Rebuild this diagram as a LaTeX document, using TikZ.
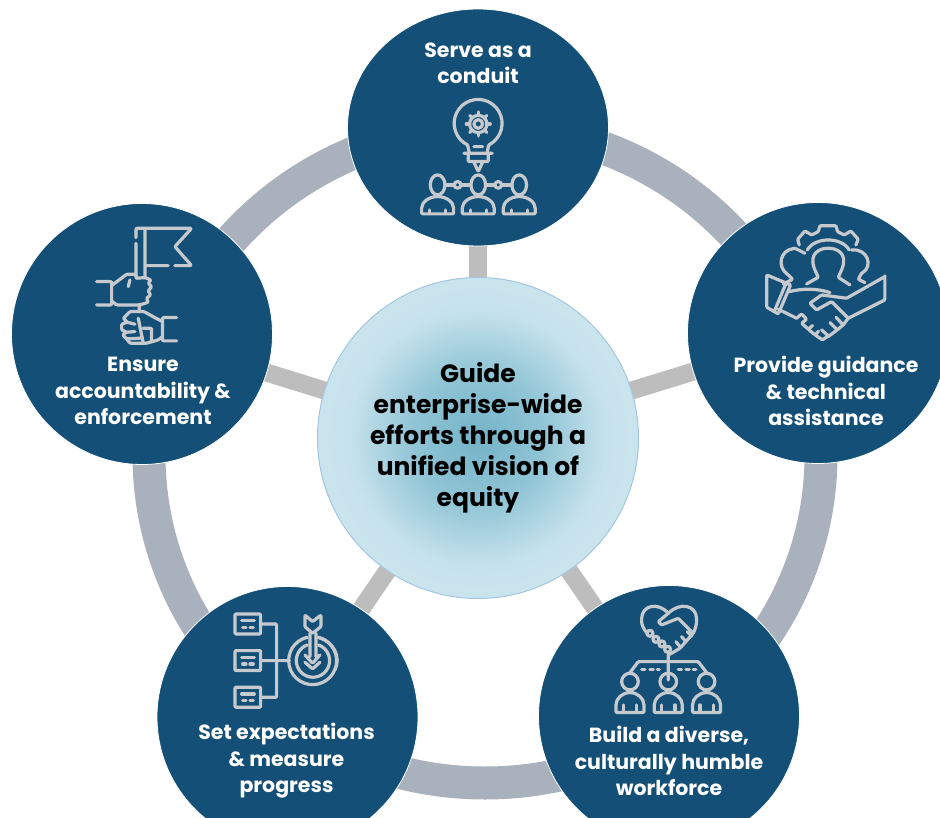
\documentclass[tikz,border=0pt]{standalone}
\usepackage{fontspec}
\setmainfont{Poppins}
\usetikzlibrary{backgrounds,shapes.geometric}
\definecolor{spotblue}{HTML}{134F76}
\definecolor{ringgray}{HTML}{A9B1BD}
\definecolor{spokegray}{HTML}{BDBDBD}
\definecolor{iconline}{HTML}{C6CACE}
\definecolor{hubedge}{HTML}{A3C6E0}
\definecolor{hubdark}{HTML}{74B3C8}
\definecolor{hubmid}{HTML}{8FC4D5}
\definecolor{hubsoft}{HTML}{C6E2EC}
\definecolor{hubpale}{HTML}{D2E9F1}
\pgfdeclareradialshading{hubshade}{\pgfpoint{0bp}{0bp}}{color(0bp)=(hubdark); color(10bp)=(hubmid); color(20bp)=(hubsoft); color(35bp)=(hubpale); color(100bp)=(hubpale)}
\begin{document}
\begin{tikzpicture}[x=1pt,y=-1pt]
  \clip (0,0) rectangle (940,818);
  \tikzstyle{spot}=[ellipse, fill=spotblue, draw=white, line width=0.8pt, inner sep=0pt, minimum width=261pt]
  \tikzstyle{hubnode}=[circle, draw=hubedge, line width=1pt, minimum size=321pt, inner sep=0pt, shade, shading=hubshade, align=center, font=\bfseries\fontsize{25}{31}\selectfont]
  \tikzstyle{spottext}=[text=white, font=\bfseries\fontsize{20.5}{26.5}\selectfont, align=center]
  \tikzstyle{icon}=[draw=iconline, line width=3.2pt, line join=round, line cap=round, rounded corners=1pt]
  \node[hubnode] (hub) at (478,438) {Guide\\enterprise-wide\\efforts through a\\unified vision of\\equity};
  \foreach \n/\x/\y/\h in {top/478/127.5/237,right/818/333/261,left/142/334/261,lowleft/287.5/717/261,lowright/669/716/261}{
    \node[spot, minimum height=\h pt] (\n) at (\x,\y){};
  }
  \begin{pgfonlayer}{background}
    \draw[ringgray, line width=33pt] (485,455) ellipse [x radius=336, y radius=328];
    \foreach \n in {top,right,left,lowleft,lowright}{
      \draw[spokegray, line width=18pt] (hub.center) -- (\n.center);
    }
  \end{pgfonlayer}
  \node[spottext] (toptext) at (478,63.5) {Serve as a\\conduit};
  \node[spottext] (righttext) at (826,391) {Provide guidance\\\& technical\\assistance};
  \node[spottext] (lefttext) at (143,391) {Ensure\\accountability \&\\enforcement};
  \node[spottext] (lowlefttext) at (286.5,761) {Set expectations\\\& measure\\progress};
  \node[spottext] (lowrighttext) at (669,761) {Build a diverse,\\culturally humble\\workforce};
  % conduit icon
  \begin{scope}[shift={(400,90)},x=0.333pt,y=-0.333pt]
    \draw[icon] (203,165) arc [start angle=116,end angle=424,radius=72] -- (262,188) (208,188) -- (203,165);
    \draw[icon] (192,190) -- (277,190) (205,192) -- (205,215) -- (265,215) -- (265,192);
    \draw[icon] (222,170) -- (248,170) (222,217) -- (235,245) -- (248,217);
    \draw[icon] (235,102) circle [radius=13] (235,102) circle [radius=26];
    \foreach \a in {0,45,...,315}{
      \draw[icon] (235,102) ++(\a:26) -- ++(\a:10);
    }
    \foreach \px in {113,235,358}{
      \draw[icon] (\px,285) ellipse [x radius=22, y radius=30];
      \draw[icon] (\px-48,372) -- (\px-48,358) arc [start angle=180,end angle=360,x radius=48,y radius=38] -- (\px+48,372) -- cycle;
      \draw[icon] (\px-24,360) -- (\px-24,372) (\px+24,360) -- (\px+24,372);
    }
    \draw[icon] (135,285) -- (162,285) (184,285) -- (213,285) (257,285) -- (284,285) (306,285) -- (336,285);
    \draw[icon] (173,285) circle [radius=10] (295,285) circle [radius=10];
  \end{scope}
  % handshake icon
  \begin{scope}[shift={(750,220)},x=0.333pt,y=-0.333pt]
    \draw[icon] (148,75) -- (143,58) -- (165,33) -- (185,45) -- (205,35) -- (210,17) -- (258,17) -- (263,35) -- (283,45) -- (303,33) -- (325,58) -- (318,75);
    \draw[icon] (172,90) .. controls (195,50) and (275,50) .. (298,90);
    \draw[icon] (170,192) -- (205,172) -- (195,150) .. controls (175,100) and (210,85) .. (235,85) .. controls (260,85) and (295,100) .. (275,150) -- (265,172) -- (300,195);
    \draw[icon] (100,192) -- (128,178) -- (115,165) .. controls (80,140) and (90,90) .. (135,85) -- (165,100);
    \draw[icon] (305,90) .. controls (355,85) and (370,140) .. (335,160) -- (325,178) -- (345,188);
    \draw[icon] (50,165) -- (122,195) -- (85,282) -- (50,262) -- cycle (108,190) -- (75,270);
    \draw[icon] (405,168) -- (405,240) -- (295,295) (405,170) -- (290,235) -- (215,225) -- (180,250) -- (200,270) -- (245,245) -- (295,295);
    \draw[icon] (118,215) .. controls (160,205) and (200,205) .. (240,218) (85,268) -- (140,295);
    \draw[icon] (140,295) -- (155,282) -- (170,298) -- (155,310) -- (175,328) -- (190,315) -- (175,328) -- (195,345) -- (208,332) -- (195,345) -- (218,360) -- (235,348) -- (215,330) (235,350) -- (262,330) -- (240,308) (262,330) -- (280,315) -- (258,292) (280,315) -- (295,295);
  \end{scope}
  % flag icon
  \begin{scope}[shift={(80,215)},x=0.333pt,y=-0.333pt]
    \draw[icon] (168,68) -- (168,40) -- (335,40) -- (285,95) -- (335,152) -- (285,152) (265,152) -- (195,152) (195,40) -- (195,188) (168,85) -- (168,185);
    \draw[icon] (50,200) -- (95,200) -- (95,270) -- (50,270) (95,212) -- (140,178) -- (168,178) -- (168,190) -- (195,188) -- (213,195) -- (205,205) -- (215,215) -- (205,228) -- (212,240) -- (200,250) -- (205,262) -- (180,270) -- (110,270) -- (95,258);
    \draw[icon] (150,195) -- (145,215) (178,268) -- (178,290);
    \draw[icon] (290,308) -- (248,308) -- (248,378) -- (290,378) (248,320) -- (228,310) -- (192,290) -- (150,290) -- (130,310) -- (142,322) -- (125,328) -- (125,345) -- (140,352) -- (128,360) -- (140,372) -- (150,385) -- (200,385) -- (235,375) -- (248,365);
    \draw[icon] (142,322) -- (165,328) (140,352) -- (165,350) (140,372) -- (180,370) (175,310) -- (190,385) (190,340) -- (215,340) -- (215,378);
  \end{scope}
  % target icon
  \begin{scope}[shift={(220,600)},x=0.333pt,y=-0.333pt]
    \foreach \by in {42,152,262}{
      \draw[icon] (45,\by) rectangle (122,\by+60);
      \draw[icon] (65,\by+20) -- (103,\by+20) (68,\by+40) -- (78,\by+40) (90,\by+40) -- (100,\by+40);
    }
    \draw[icon] (122,72) -- (170,72) -- (170,292) -- (122,292) (122,182) -- (208,182);
    \draw[icon] (262,112) arc [start angle=257,end angle=-77,radius=72];
    \draw[icon] (296,112) .. controls (340,125) and (365,170) .. (345,210);
    \draw[icon] (262,135) arc [start angle=250,end angle=-70,radius=50];
    \draw[icon] (270,100) -- (270,170) (288,100) -- (288,170) (255,165) -- (278,190) -- (300,165) (255,187) -- (278,207) -- (300,187);
    \draw[icon] (255,45) -- (278,65) -- (303,45) -- (303,80) -- (278,100) -- (255,80) -- cycle;
  \end{scope}
  % heart icon
  \begin{scope}[shift={(600,600)},x=0.333pt,y=-0.333pt]
    \draw[icon] (205,40) .. controls (175,5) and (125,15) .. (125,60) .. controls (125,75) and (130,85) .. (140,98);
    \draw[icon] (205,40) .. controls (240,5) and (290,15) .. (290,60) .. controls (290,75) and (285,90) .. (280,100);
    \draw[icon] (205,40) -- (175,65) -- (185,75) -- (235,55) -- (280,100) -- (240,145) -- (215,160) -- (205,165);
    \foreach \fx/\fy in {150/100,168/118,186/132,203/148}{
      \draw[icon] (\fx,\fy) circle [radius=9];
    }
    \draw[icon] (228,125) -- (240,140) (245,110) -- (258,125) (262,95) -- (275,108);
    \draw[icon] (205,165) -- (205,240) (90,218) -- (115,185) -- (295,185) -- (320,218);
    \draw[icon] (125,208) -- (135,208) (150,208) -- (160,208) (172,208) -- (178,208) (235,208) -- (245,208) (258,208) -- (268,208) (280,208) -- (288,208);
    \foreach \px in {90,205,320}{
      \draw[icon] (\px,245) circle [radius=25];
      \draw[icon] (\px-42,338) -- (\px-42,318) arc [start angle=180,end angle=360,x radius=42,y radius=40] -- (\px+42,338) -- cycle;
      \draw[icon] (\px-20,315) -- (\px-20,338) (\px+20,315) -- (\px+20,338);
    }
  \end{scope}
\end{tikzpicture}
\end{document}
